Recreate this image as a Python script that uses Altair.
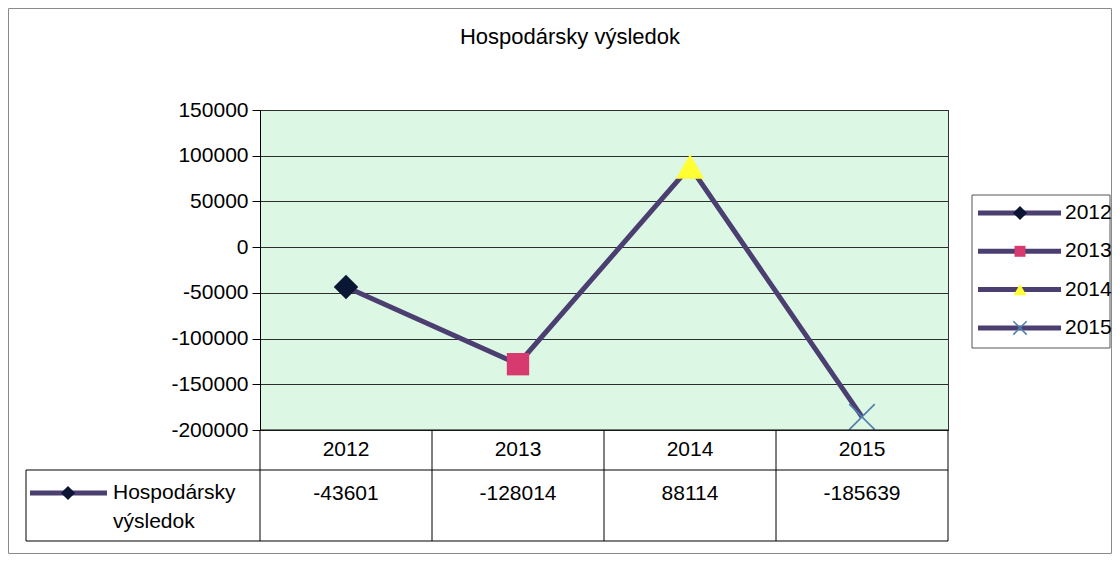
import altair as alt
import pandas as pd

# ---- data ----
years = ["2012", "2013", "2014", "2015"]
values = [-43601, -128014, 88114, -185639]
series_name = ["Hospodársky", "výsledok"]
title_text = "Hospodársky výsledok"
y_ticks = [150000, 100000, 50000, 0, -50000, -100000, -150000, -200000]

marker_shapes = ["diamond", "square", "triangle-up", "M-1,-1L1,1M-1,1L1,-1"]
marker_colors = ["#0b1634", "#d63a6e", "#ffff33", "#4f7fae"]
marker_filled = [True, True, True, False]
marker_sizes = [600, 500, 800, 650]
legend_sizes = [200, 120, 170, 180]

LINE_COLOR = "#4a3f70"
FONT = "Liberation Sans"
FS = 21

W, H = 688, 320
PAD_L, PAD_T, PAD_R, PAD_B = 252, 102, 164, 125
step = W / len(years)

df = pd.DataFrame({"year": years, "value": values})
one = pd.DataFrame({"k": [0]})

xenc = alt.X("year:N", scale=alt.Scale(type="point", padding=0.5, domain=years), axis=None)
yenc = alt.Y(
    "value:Q",
    scale=alt.Scale(domain=[-200000, 150000], nice=False, zero=False),
    axis=alt.Axis(
        values=y_ticks, title=None, labelFont=FONT, labelFontSize=FS, labelColor="#000",
        gridColor="#2e2e2e", gridWidth=1, domainColor="#000", domainWidth=1,
        tickColor="#000", tickSize=8, labelPadding=4, labelExpr="toString(datum.value)",
    ),
)


def rule(x1, x2, y1, y2, color="#000", w=1):
    return alt.Chart(one).mark_rule(color=color, strokeWidth=w).encode(
        x=alt.value(x1), x2=alt.value(x2), y=alt.value(y1), y2=alt.value(y2)
    )


def label(txt, x, y, align="center", size=FS):
    return alt.Chart(one).mark_text(
        text=txt, font=FONT, fontSize=size, color="#000", align=align, baseline="middle"
    ).encode(x=alt.value(x), y=alt.value(y))


layers = []

# outer chart border
layers.append(
    alt.Chart(one).mark_rect(fill=None, stroke="#8a8a8a", strokeWidth=1).encode(
        x=alt.value(-PAD_L + 0.5), x2=alt.value(W + PAD_R - 0.5),
        y=alt.value(-PAD_T + 0.5), y2=alt.value(H + PAD_B - 1.5),
    )
)

# title
layers.append(label(title_text, 310, -73, size=22))

# gridlines / y axis (invisible carrier)
layers.append(alt.Chart(df).mark_point(opacity=0).encode(x=xenc, y=yenc))

# main line
layers.append(alt.Chart(df).mark_line(color=LINE_COLOR, strokeWidth=5).encode(x=xenc, y=yenc))

# markers
for i, yr in enumerate(years):
    layers.append(
        alt.Chart(df).transform_filter(alt.datum.year == yr).mark_point(
            shape=marker_shapes[i], filled=marker_filled[i], color=marker_colors[i],
            size=marker_sizes[i], opacity=1, strokeWidth=1.6 if not marker_filled[i] else 0,
        ).encode(x=xenc, y=yenc)
    )

# ---- data table ----
row1, row2, row3 = H, H + 40, H + 111
layers.append(rule(-234, W, row2, row2))
layers.append(rule(-234, W, row3, row3))
layers.append(rule(-234, -234, row2, row3))
for j in range(len(years) + 1):
    layers.append(rule(j * step, j * step, row1, row3))
layers.append(rule(0, W, H, H))

layers.append(
    alt.Chart(df).mark_text(font=FONT, fontSize=FS, color="#000", baseline="middle").encode(
        x=xenc, y=alt.value(row1 + 20), text="year:N"
    )
)
layers.append(
    alt.Chart(df).transform_calculate(lbl="toString(datum.value)").mark_text(
        font=FONT, fontSize=FS, color="#000", baseline="middle"
    ).encode(x=xenc, y=alt.value(row2 + 24), text="lbl:N")
)
# row label with legend key
layers.append(rule(-230, -153, row2 + 23, row2 + 23, color=LINE_COLOR, w=5))
layers.append(
    alt.Chart(one).mark_point(shape="diamond", filled=True, color=marker_colors[0], size=200, opacity=1).encode(
        x=alt.value(-192), y=alt.value(row2 + 23)
    )
)
layers.append(label(series_name[0], -147, row2 + 23, align="left"))
layers.append(label(series_name[1], -147, row2 + 52, align="left"))

# ---- legend ----
lx0, lx1, ly0, ly1 = 712, 850, 85, 238
layers.append(
    alt.Chart(one).mark_rect(fill="#ffffff", stroke="#555", strokeWidth=1).encode(
        x=alt.value(lx0), x2=alt.value(lx1), y=alt.value(ly0), y2=alt.value(ly1)
    )
)
for i, yr in enumerate(years):
    yy = 103 + i * 38.3
    layers.append(rule(718, 801, yy, yy, color=LINE_COLOR, w=5))
    layers.append(
        alt.Chart(one).mark_point(
            shape=marker_shapes[i], filled=marker_filled[i], color=marker_colors[i],
            size=legend_sizes[i], opacity=1, strokeWidth=1.5 if not marker_filled[i] else 0,
        ).encode(x=alt.value(760), y=alt.value(yy))
    )
    layers.append(label(yr, 805, yy, align="left"))

chart = (
    alt.layer(*layers)
    .properties(
        width=W, height=H,
        autosize=alt.AutoSizeParams(type="none"),
        padding={"left": PAD_L, "top": PAD_T, "right": PAD_R, "bottom": PAD_B},
        background="#ffffff",
    )
    .configure_view(fill="#dcf7e3", stroke="#333", strokeWidth=1)
)

chart.save("out.html", embed_options={"renderer": "svg", "actions": False})
